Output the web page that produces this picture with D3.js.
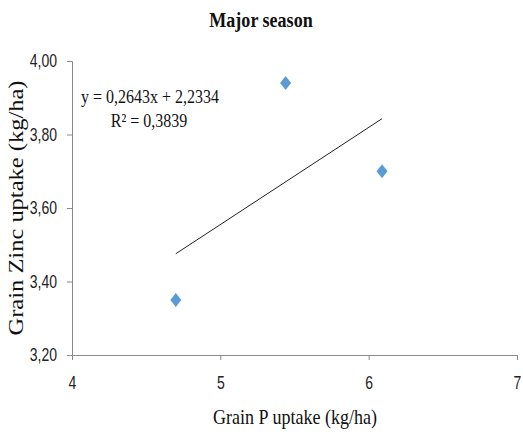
<!DOCTYPE html>
<html><head><meta charset="utf-8">
<script src="https://cdn.jsdelivr.net/npm/d3@7"></script>
<style>
body{margin:0;background:#fff;}
svg{display:block;}
.tick text{font-family:"Liberation Sans Narrow","Arial Narrow","Liberation Sans",sans-serif;font-size:17.5px;fill:#222;}
</style></head>
<body>
<svg id="chart" width="523" height="438"></svg>
<script>
// Grain P uptake vs grain Zn uptake, major season
const pUptake = [4.70, 5.44, 6.09];
const znUptake = [3.35, 3.94, 3.70];
const xTicks = [4, 5, 6, 7];
const yTicks = [3.20, 3.40, 3.60, 3.80, 4.00];
const slope = 0.2643, intercept = 2.2334, r2 = 0.3839;

const svg = d3.select("#chart");
const m = {left: 72, right: 6, top: 61, bottom: 83};
const W = 523, H = 438;
const sx = 0.8; // horizontal text condensing

const x = d3.scaleLinear().domain([4, 7]).range([m.left, W - m.right]);
const y = d3.scaleLinear().domain([3.20, 4.00]).range([H - m.bottom, m.top]);

const fmt = v => d3.format(".2f")(v).replace(".", ",");

const xAxis = svg.append("g")
  .attr("transform", `translate(0,${H - m.bottom})`)
  .call(d3.axisBottom(x).tickValues(xTicks).tickSize(5).tickPadding(17).tickFormat(d3.format("d")));
const yAxis = svg.append("g")
  .attr("transform", `translate(${m.left},0)`)
  .call(d3.axisLeft(y).tickValues(yTicks).tickSize(5).tickPadding(10).tickFormat(fmt));
[xAxis, yAxis].forEach(g => {
  g.select(".domain").attr("stroke", "#8a8a8a");
  g.selectAll(".tick line").attr("stroke", "#8a8a8a");
  g.selectAll(".tick text").each(function () {
    const t = d3.select(this);
    const tx = +t.attr("x") || 0;
    t.attr("x", tx / sx).attr("transform", `scale(${sx},1)`);
  });
});

// linear trendline across the data range
const [x0, x1] = d3.extent(pUptake);
svg.append("line")
  .attr("x1", x(x0)).attr("y1", y(slope * x0 + intercept))
  .attr("x2", x(x1)).attr("y2", y(slope * x1 + intercept))
  .attr("stroke", "#222").attr("stroke-width", 1);

// diamond markers
svg.selectAll("path.pt").data(pUptake).enter().append("path")
  .attr("class", "pt")
  .attr("d", "M0,-7L5.5,0L0,7L-5.5,0Z")
  .attr("transform", (d, i) => `translate(${x(d)},${y(znUptake[i])})`)
  .attr("fill", "#5B9BD5");

const serif = '"Liberation Serif","Times New Roman",serif';
const label = (cx, cy, size, txt, bold) => svg.append("text")
  .attr("transform", `translate(${cx},${cy}) scale(0.82,1)`)
  .attr("text-anchor", "middle").attr("font-family", serif)
  .attr("font-size", size).attr("font-weight", bold ? "bold" : "normal")
  .attr("fill", "#111")
  .text(txt);

label(261, 27, 22, "Major season", true);
label(150, 103, 19.5, "y = " + String(slope).replace(".", ",") + "x + " + String(intercept).replace(".", ","));
label(149, 127, 19.5, "R² = " + String(r2).replace(".", ","));
label(295, 424, 22, "Grain P uptake (kg/ha)");

svg.append("text")
  .attr("transform", `translate(23,208) rotate(-90) scale(1,0.82)`)
  .attr("text-anchor", "middle").attr("font-family", serif).attr("font-size", 24.5)
  .attr("fill", "#111")
  .text("Grain Zinc uptake (kg/ha)");
</script>
</body></html>
